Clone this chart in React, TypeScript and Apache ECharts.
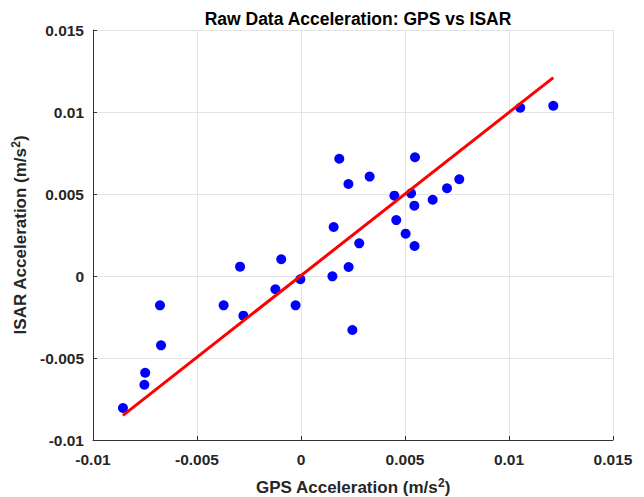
import React, { useEffect, useRef } from "react";
import * as echarts from "echarts";

const titleText = "Raw Data Acceleration: GPS vs ISAR";
const xAxisTicks = [-0.01, -0.005, 0, 0.005, 0.01, 0.015];
const yAxisTicks = [-0.01, -0.005, 0, 0.005, 0.01, 0.015];

const gpsAccel = [
  -0.00856, -0.00753, -0.00749, -0.00673, -0.00678, -0.00372, -0.00293, -0.00277,
  -0.00123, -0.00095, -0.00026, -0.00003, 0.00151, 0.00229, 0.00247, 0.0028,
  0.00184, 0.00228, 0.0033, 0.00157, 0.00449, 0.00529, 0.00548, 0.00545,
  0.00458, 0.00503, 0.00546, 0.00633, 0.00702, 0.00761, 0.01054, 0.01213,
];
const isarAccel = [
  -0.00805, -0.00663, -0.0059, -0.00423, -0.00179, -0.00179, 0.00057, -0.00242,
  -0.00081, 0.00102, -0.00179, -0.0002, -0.00002, 0.00055, -0.00329, 0.00199,
  0.00715, 0.00561, 0.00606, 0.00299, 0.0049, 0.00504, 0.00724, 0.00429,
  0.00341, 0.00258, 0.00183, 0.00465, 0.00535, 0.0059, 0.01026, 0.01038,
];
const fitX = [-0.00856, 0.01213];
const fitY = [-0.0085, 0.0121];

const FONT = "'Liberation Sans', Arial, Helvetica, sans-serif";
const TXT = "#262626";

const fmt = (v: number) => String(parseFloat(v.toFixed(4)));

export default function App() {
  const ref = useRef<HTMLDivElement>(null);
  useEffect(() => {
    if (!ref.current) return;
    const chart = echarts.init(ref.current, undefined, { renderer: "svg" });
    const nameRich = {
      b: { fontSize: 17, fontWeight: "bold", color: TXT, fontFamily: FONT },
      s: {
        fontSize: 12,
        fontWeight: "bold",
        color: TXT,
        fontFamily: FONT,
        verticalAlign: "bottom",
        padding: [0, 0, 9, 0],
      },
    };
    const axisCommon = {
      type: "value",
      interval: 0.005,
      axisLine: { show: true, onZero: false, lineStyle: { color: "#333333", width: 1 } },
      axisTick: { show: true, inside: true, length: 4, lineStyle: { color: "#333333" } },
      splitLine: { show: true, lineStyle: { color: "#e3e3e3", width: 1 } },
      axisLabel: {
        color: TXT,
        fontSize: 15.5,
        fontWeight: "bold",
        fontFamily: FONT,
        formatter: fmt,
      },
      nameLocation: "middle",
    };
    chart.setOption({
      animation: false,
      backgroundColor: "#ffffff",
      title: {
        text: titleText,
        left: 353,
        textAlign: "center",
        top: 5,
        textStyle: { fontSize: 17.5, fontWeight: "bold", color: "#000", fontFamily: FONT },
      },
      grid: {
        left: 93,
        right: 31,
        top: 30,
        bottom: 57,
        containLabel: false,
        outerBoundsMode: "none",
      },
      xAxis: {
        ...axisCommon,
        min: xAxisTicks[0],
        max: xAxisTicks[xAxisTicks.length - 1],
        axisLabel: { ...axisCommon.axisLabel, margin: 11 },
        name: "{b|GPS Acceleration (m/s}{s|2}{b|)}",
        nameGap: 37,
        nameTextStyle: { rich: nameRich },
      },
      yAxis: {
        ...axisCommon,
        min: yAxisTicks[0],
        max: yAxisTicks[yAxisTicks.length - 1],
        axisLabel: { ...axisCommon.axisLabel, margin: 9 },
        name: "{b|ISAR Acceleration (m/s}{s|2}{b|)}",
        nameGap: 51,
        nameRotate: 90,
        nameTextStyle: { rich: nameRich },
      },
      series: [
        {
          type: "scatter",
          data: gpsAccel.map((x, i) => [x, isarAccel[i]]),
          symbol: "circle",
          symbolSize: 10,
          itemStyle: { color: "#0000ff", opacity: 1 },
          z: 2,
        },
        {
          type: "line",
          data: fitX.map((x, i) => [x, fitY[i]]),
          symbol: "none",
          lineStyle: { color: "#ff0000", width: 3 },
          z: 3,
        },
      ],
    });
    return () => chart.dispose();
  }, []);
  return (
    <div
      ref={ref}
      style={{ position: "fixed", left: 0, top: 0, width: 644, height: 497, background: "#fff" }}
    />
  );
}
